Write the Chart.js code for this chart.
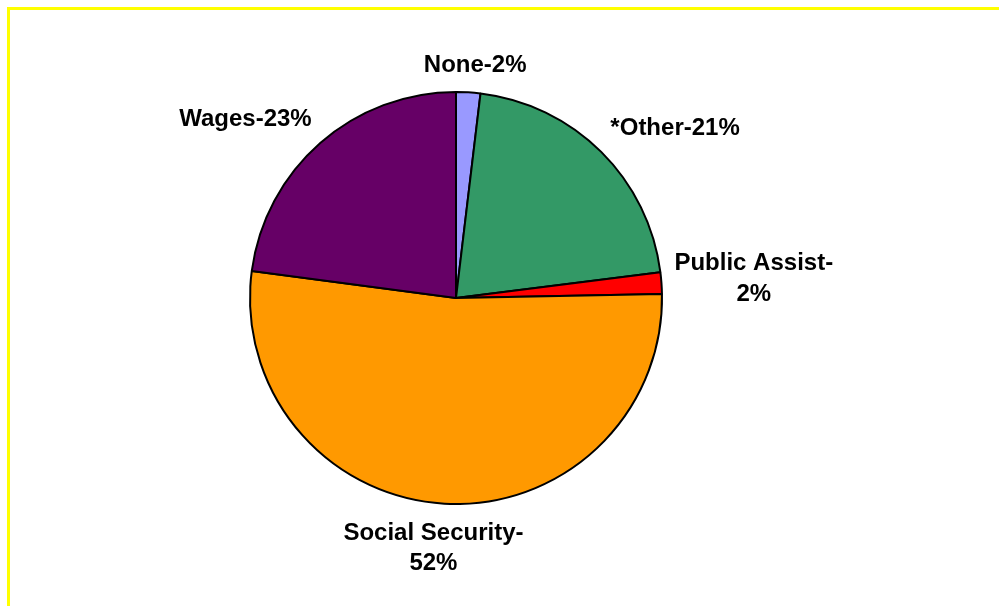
<!DOCTYPE html>
<html>
<head>
<meta charset="utf-8">
<script src="https://cdn.jsdelivr.net/npm/chart.js@4/dist/chart.umd.min.js"></script>
<style>
  html, body { margin: 0; padding: 0; background: #fff; overflow: hidden; }
  #wrap { position: relative; width: 999px; height: 606px; }
  #frame {
    position: absolute; left: 7px; top: 7px; width: 1100px; height: 700px;
    border-left: 3px solid #ffff00; border-top: 3px solid #ffff00;
    pointer-events: none;
  }
  canvas { position: absolute; left: 0; top: 0; }
</style>
</head>
<body>
<div id="wrap">
  <canvas id="pie" width="999" height="606"></canvas>
  <div id="frame"></div>
</div>
<script>
const categories = ["None", "*Other", "Public Assist", "Social Security", "Wages"];
const values = [1.9, 21.1, 1.7, 52.4, 22.9];
const colors = ["#9999ff", "#339966", "#ff0000", "#ff9900", "#660066"];

const total = values.reduce((a, b) => a + b, 0);
const labelFont = "bold 24px Arial, 'Liberation Sans', sans-serif";
const lineH = 30.5;

// excel-style outside labels: "Name-NN%", wrapped after the dash when too wide
const outsideLabels = {
  id: "outsideLabels",
  afterDatasetsDraw(chart) {
    const ctx = chart.ctx;
    const meta = chart.getDatasetMeta(0);
    ctx.save();
    ctx.font = labelFont;
    ctx.fillStyle = "#000";
    ctx.textAlign = "center";
    ctx.textBaseline = "middle";
    meta.data.forEach((arc, i) => {
      const p = arc.getProps(["x", "y", "startAngle", "endAngle", "outerRadius"], true);
      const mid = (p.startAngle + p.endAngle) / 2;
      const text = categories[i] + "-" + Math.round(values[i] / total * 100) + "%";
      let lines = [text];
      if (ctx.measureText(text).width > 170) {
        const k = text.lastIndexOf("-") + 1;
        lines = [text.slice(0, k), text.slice(k)];
      }
      const w = Math.max(...lines.map(l => ctx.measureText(l).width));
      const h = lines.length * lineH;
      const r = p.outerRadius + 13;
      const cx = Math.cos(mid), sy = Math.sin(mid);
      const ax = p.x + cx * r;
      const ay = p.y + sy * r;
      const clamp = v => Math.max(-1, Math.min(1, v));
      const bx = ax + clamp(cx * 2) * w / 2;
      const by = ay + clamp(sy * 2) * h / 2 + 1;
      lines.forEach((l, j) => {
        ctx.fillText(l, bx, by - h / 2 + lineH / 2 + j * lineH);
      });
    });
    ctx.restore();
  }
};

new Chart(document.getElementById("pie"), {
  type: "pie",
  data: {
    labels: categories,
    datasets: [{
      data: values,
      backgroundColor: colors,
      borderColor: "#000",
      borderWidth: 2
    }]
  },
  options: {
    responsive: false,
    animation: false,
    radius: 206,
    layout: { padding: { top: 91, bottom: 101, left: 200, right: 287 } },
    plugins: {
      legend: { display: false },
      tooltip: { enabled: false }
    }
  },
  plugins: [outsideLabels]
});
</script>
</body>
</html>
